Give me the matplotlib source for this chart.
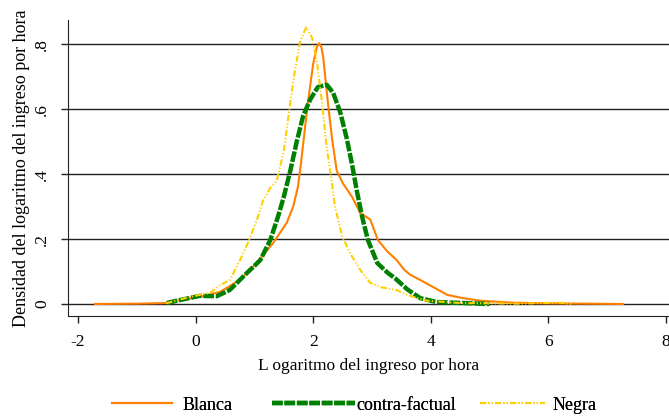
import numpy as np
import matplotlib.pyplot as plt
from matplotlib.lines import Line2D

plt.rcParams['font.family'] = ['Liberation Serif', 'DejaVu Serif']

# densidad kernel leida por grupo
blanca_x = [-1.71, -1.0, -0.5, -0.27, 0.07, 0.41, 0.755, 1.04, 1.32, 1.55, 1.66, 1.74, 1.79,
            1.84, 1.91, 2.0, 2.06, 2.10, 2.14, 2.17, 2.25, 2.32, 2.40, 2.51, 2.66, 2.80,
            2.97, 3.10, 3.26, 3.42, 3.55, 3.65, 3.82, 4.04, 4.28, 4.55, 4.84, 5.4, 6.0, 7.27]
blanca_y = [0.0, 0.001, 0.003, 0.012, 0.022, 0.037, 0.074, 0.126, 0.188, 0.25, 0.30, 0.36, 0.43,
            0.51, 0.62, 0.74, 0.79, 0.803, 0.79, 0.76, 0.62, 0.51, 0.41, 0.37, 0.33, 0.28,
            0.26, 0.197, 0.162, 0.135, 0.105, 0.09, 0.074, 0.052, 0.028, 0.018, 0.01, 0.004, 0.002, 0.0]

contra_x = [-0.49, -0.27, 0.07, 0.36, 0.58, 0.87, 1.10, 1.27, 1.40, 1.50, 1.61, 1.72, 1.83,
            1.95, 2.08, 2.23, 2.34, 2.46, 2.57, 2.66, 2.74, 2.83, 2.93, 3.09, 3.26, 3.40,
            3.60, 3.82, 4.1, 4.55, 5.0]
contra_y = [0.003, 0.012, 0.025, 0.024, 0.043, 0.095, 0.135, 0.197, 0.268, 0.33, 0.41, 0.50,
            0.58, 0.63, 0.668, 0.675, 0.65, 0.59, 0.51, 0.43, 0.35, 0.27, 0.197, 0.126, 0.097,
            0.078, 0.045, 0.018, 0.006, 0.003, 0.0]

negra_x = [-0.5, -0.1, 0.245, 0.415, 0.585, 0.755, 0.89, 1.04, 1.15, 1.27, 1.38, 1.50, 1.61,
           1.69, 1.78, 1.88, 1.98, 2.06, 2.15, 2.23, 2.29, 2.37, 2.49, 2.63, 2.80, 2.97, 3.14,
           3.42, 3.60, 3.70, 3.94, 4.5, 5.5, 6.2, 6.4]
negra_y = [0.002, 0.022, 0.034, 0.058, 0.074, 0.135, 0.188, 0.258, 0.32, 0.357, 0.38, 0.47, 0.62,
           0.72, 0.81, 0.852, 0.82, 0.75, 0.62, 0.48, 0.41, 0.30, 0.21, 0.155, 0.105, 0.065, 0.052,
           0.043, 0.028, 0.022, 0.01, 0.003, 0.001, 0.004, 0.0]

xticks = [-2, 0, 2, 4, 6, 8]
yticks = [0, 0.2, 0.4, 0.6, 0.8]
ytick_labels = ['0', '.2', '.4', '.6', '.8']

fig = plt.figure(figsize=(6.69, 4.19), dpi=100)
ax = fig.add_axes([0.1016, 0.2458, 0.8984, 0.7062])

for yv in yticks:
    ax.axhline(yv, color='#222222', lw=1.0, zorder=1)

l1, = ax.plot(blanca_x, blanca_y, color='#ff8000', lw=1.5, label='Blanca', zorder=3)
l2, = ax.plot(contra_x, contra_y, color='#008000', lw=3.2, linestyle=(0, (2.4, 0.4)),
              label='contra-factual', zorder=4)
l3, = ax.plot(negra_x, negra_y, color='#ffd000', lw=1.5, linestyle=(0, (3, 1, 0.6, 1, 0.6, 1)),
              label='Negra', zorder=5)

ax.set_xlim(-2.17, 8.05)
ax.set_ylim(-0.037, 0.874)
ax.set_xticks(xticks)
ax.set_xticklabels([str(v) for v in xticks])
ax.set_yticks(yticks)
ax.set_yticklabels(ytick_labels, rotation=90, va='center')
ax.tick_params(axis='both', direction='out', length=5, width=1, labelsize=12.5, color='#222222')
ax.tick_params(axis='y', pad=8)
ax.tick_params(axis='x', pad=8)

for side in ['top', 'right']:
    ax.spines[side].set_visible(False)
for side in ['left', 'bottom']:
    ax.spines[side].set_color('#222222')

ax.set_xlabel('L ogaritmo del ingreso por hora', fontsize=12.5, labelpad=6)
ax.set_ylabel('Densidad del logaritmo del ingreso por hora', fontsize=13, labelpad=3)

# una leyenda por serie, cada una con su largo de linea
entries = [(l1, 112, 3.3, 0.6), (l2, 272, 4.6, 0.05), (l3, 480, 3.6, 0.4)]
for line, x0, hl, tp in entries:
    leg = fig.legend([line], [line.get_label()], loc='center left',
                     bbox_to_anchor=(x0 / 669, 14 / 419), frameon=False, fontsize=13,
                     handlelength=hl, handletextpad=tp, borderpad=0, borderaxespad=0)
    fig.add_artist(leg)

fig.savefig('out.png', dpi=100)
